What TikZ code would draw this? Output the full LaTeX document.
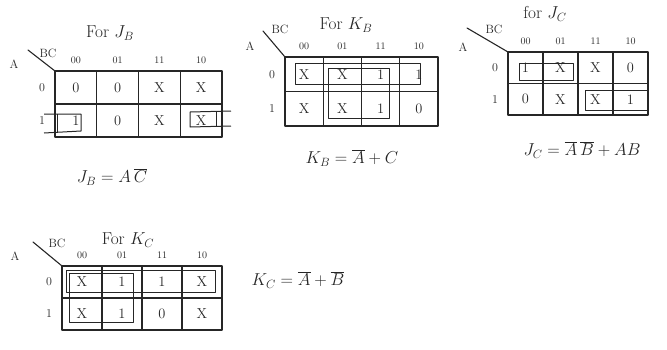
\documentclass[tikz,border=0pt]{standalone}
\begin{document}
\begin{tikzpicture}[x=1pt,y=-1pt,
  ink/.style={line width=1.1pt, draw=black!85, line cap=round, line join=round},
  grp/.style={line width=1pt, draw=black!85, line join=round},
  cell/.style={font=\Large, inner sep=0pt, text=black!85},
  hdr/.style={font=\normalsize, inner sep=0pt, text=black!85},
  lbl/.style={font=\large, inner sep=0pt, text=black!85},
  ttl/.style={font=\LARGE, inner sep=0pt, text=black!85},
  eqn/.style={font=\LARGE, inner sep=0pt, text=black!85}]
\useasboundingbox (0,0) rectangle (667,349);

% K-map grid: name, left, top, right, bottom, eight entries (row 0 then row 1)
\newcommand\kmapgrid[6]{%
  \pgfmathsetmacro\kw{(#4-#2)/4}%
  \pgfmathsetmacro\kh{(#5-#3)/2}%
  \draw[ink] (#2,#3) rectangle (#4,#5);
  \foreach \k in {1,2,3} \draw[ink] ({#2+\k*\kw},#3) -- ({#2+\k*\kw},#5);
  \draw[ink] (#2,{#3+\kh}) -- (#4,{#3+\kh});
  \foreach \h [count=\c from 0] in {00,01,11,10}
    \node[hdr] (#1-h\c) at ({#2+(\c+0.5)*\kw},{#3-11}) {\h};
  \foreach \r in {0,1}
    \node[lbl] (#1-r\r) at ({#2-13},{#3+(\r+0.5)*\kh}) {\r};
  \foreach \v [count=\i from 0] in {#6} {
    \pgfmathtruncatemacro\rr{\i/4}%
    \pgfmathtruncatemacro\cc{mod(\i,4)}%
    \node[cell] (#1-\rr\cc) at ({#2+(\cc+0.5)*\kw},{#3+(\rr+0.5)*\kh}) {\v};
  }
}

% ---------- J_B ----------
\node[ttl] (jb-title) at (110,33) {For $J_B$};
\node[lbl] (jb-a) at (14,64) {A};
\node[lbl] (jb-bc) at (48,53) {BC};
\draw[ink] (28,50) -- (55,71);
\kmapgrid{jb}{55}{71}{222}{137}{0,0,X,X,1,0,X,X}
\draw[grp] (44,114) -- (81,114) -- (81,131) -- (44,133);
\draw[grp] (57,114) -- (57,132);
\draw[grp] (231,111) -- (190,112) -- (190,127) -- (231,126);
\draw[grp] (216,112) -- (216,127);
\node[eqn] (jb-eq) at (112,177) {$J_B = A\,\overline{C}$};

% ---------- K_B ----------
\node[ttl] (kb-title) at (346,25) {For $K_B$};
\node[lbl] (kb-a) at (250,46) {A};
\node[lbl] (kb-bc) at (280,29) {BC};
\draw[ink] (263,31) -- (285,57);
\kmapgrid{kb}{285}{57}{438}{126}{X,X,1,1,X,X,1,0}
\draw[grp] (295,63) rectangle (420,84);
\draw[grp] (328,68) rectangle (389,118);
\node[eqn] (kb-eq) at (352,158) {$K_B = \overline{A} + C$};

% ---------- J_C ----------
\node[ttl] (jc-title) at (545,14) {for $J_C$};
\node[lbl] (jc-a) at (463,47) {A};
\node[lbl] (jc-bc) at (494,29) {BC};
\draw[ink] (467,28) -- (508,52);
\kmapgrid{jc}{508}{52}{648}{115}{1,X,X,0,0,X,X,1}
\draw[grp] (519,63) rectangle (573,80);
\draw[grp] (585,90) rectangle (647,110);
\node[eqn] (jc-eq) at (582,150) {$J_C = \overline{A}\,\overline{B} + AB$};

% ---------- K_C ----------
\node[ttl] (kc-title) at (128,240) {For $K_C$};
\node[lbl] (kc-a) at (15,256) {A};
\node[lbl] (kc-bc) at (57,243) {BC};
\draw[ink] (33,242) -- (62,266);
\kmapgrid{kc}{62}{266}{222}{330}{X,1,1,X,X,1,0,X}
\draw[grp] (66,270) rectangle (215,292);
\draw[grp] (69,273) rectangle (133,322);
\node[eqn] (kc-eq) at (298,280) {$K_C = \overline{A} + \overline{B}$};
\end{tikzpicture}
\end{document}
